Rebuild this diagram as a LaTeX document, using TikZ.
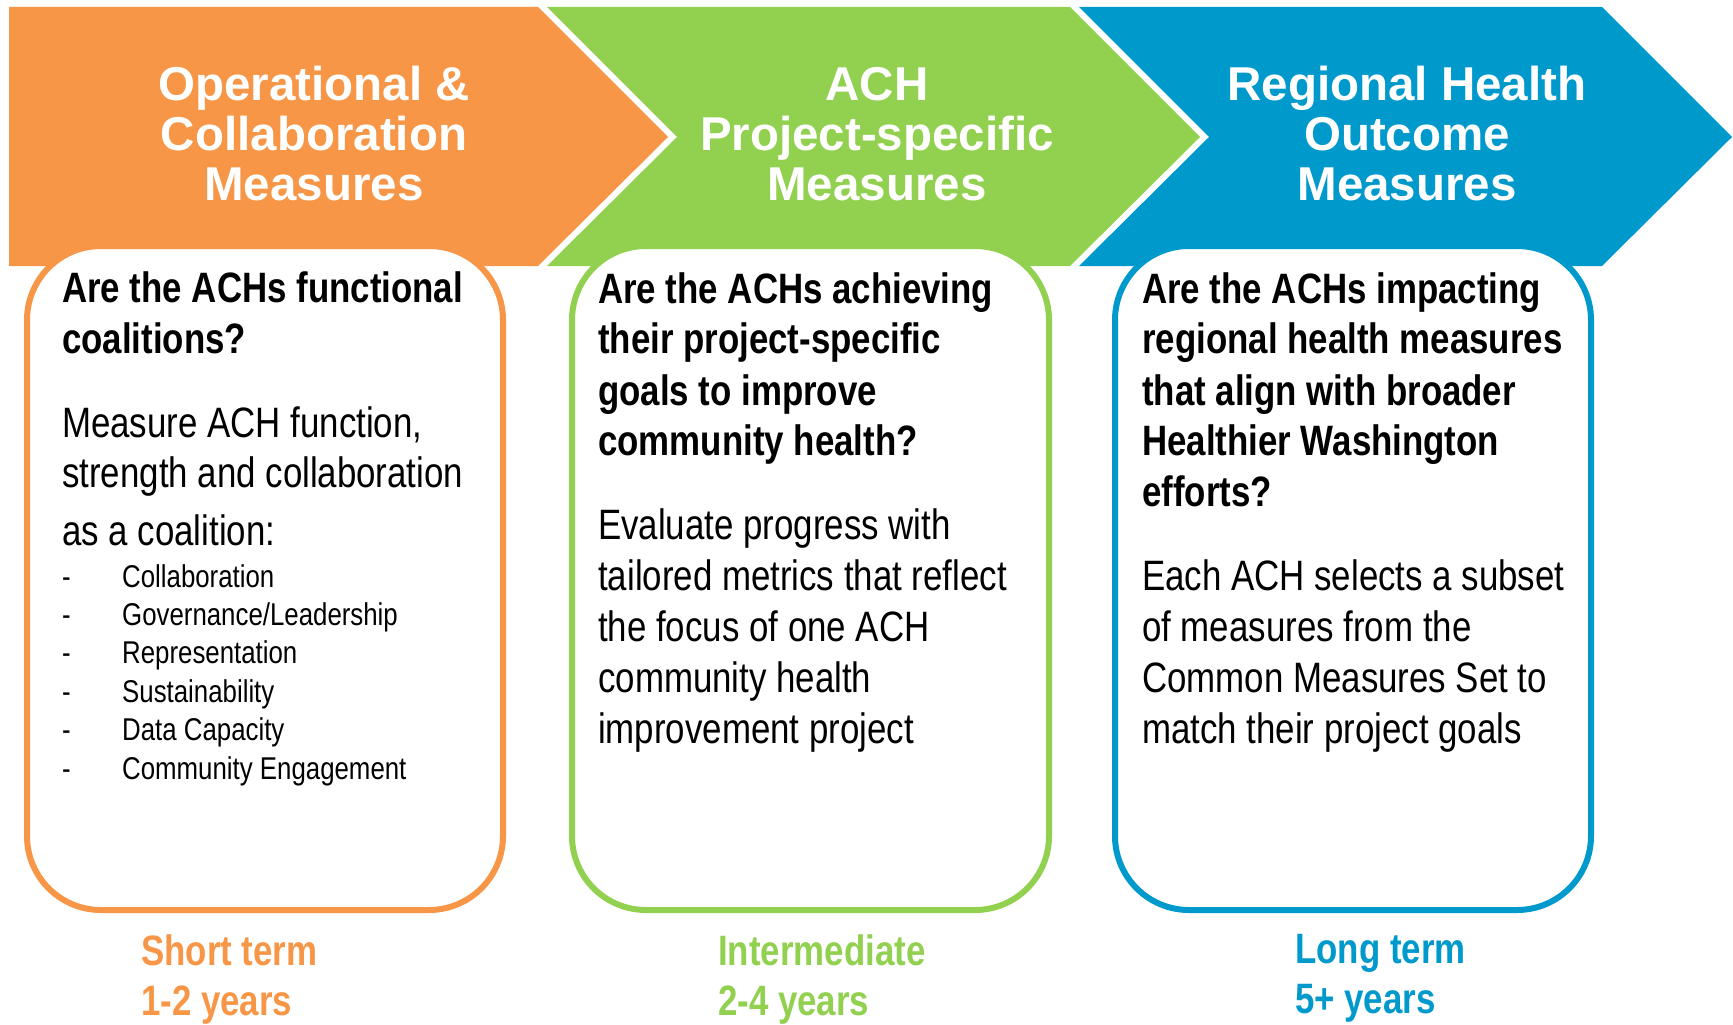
\documentclass[tikz,border=0pt]{standalone}
\usepackage{fontspec}
\setmainfont{Liberation Sans}
\newfontfamily\narrowfont[FakeStretch=0.82]{Liberation Sans}
\definecolor{corange}{HTML}{F79646}
\definecolor{cgreen}{HTML}{92D050}
\definecolor{cblue}{HTML}{0099CC}
\tikzset{
  titletext/.style={text=white, align=center, inner sep=0pt, anchor=center,
    font=\bfseries\fontsize{47.5}{50}\selectfont},
  headtext/.style={text=black, align=left, inner sep=0pt, anchor=north west,
    font=\narrowfont\bfseries\fontsize{42.5}{51}\selectfont},
  bodytext/.style={text=black, align=left, inner sep=0pt, anchor=north west,
    font=\narrowfont\fontsize{42.5}{51}\selectfont},
  listtext/.style={text=black, align=left, inner sep=0pt, anchor=north west,
    font=\narrowfont\fontsize{31.5}{38.4}\selectfont},
  termtext/.style={align=left, inner sep=0pt, anchor=north west,
    font=\narrowfont\bfseries\fontsize{42.5}{50.5}\selectfont},
  box/.style={line width=6pt, fill=white, rounded corners=74pt}
}
\begin{document}
\begin{tikzpicture}[x=1pt,y=-1pt]
\useasboundingbox (0,0) rectangle (1733,1025);
% chevrons
\fill[corange] (9,7) -- (538,7) -- (668,137) -- (538,266) -- (9,266) -- cycle;
\fill[cgreen] (547,7) -- (1070,7) -- (1200,137) -- (1070,266) -- (547,266) -- (677,137) -- cycle;
\fill[cblue] (1079,7) -- (1602,7) -- (1732,137) -- (1602,266) -- (1079,266) -- (1209,137) -- cycle;
% titles
\node[titletext] (t1) at (314,134) {Operational \&\\Collaboration\\Measures};
\node[titletext] (t2) at (877,134) {ACH\\Project-specific\\Measures};
\node[titletext] (t3) at (1407,134) {Regional Health\\Outcome\\Measures};
% boxes
\draw[box, draw=corange] (27,246) rectangle (503,910);
\draw[box, draw=cgreen] (572,246) rectangle (1049,910);
\draw[box, draw=cblue] (1115,246) rectangle (1591,910);
% orange box text
\node[headtext] (h1) at (62,272) {Are the ACHs functional\\coalitions?};
\node[bodytext] (b1) at (62,406) {Measure ACH function,\\strength and collaboration\\[6pt]as a coalition:};
\node[listtext] (l1) at (62,564) {\makebox[60pt][l]{-}Collaboration\\
\makebox[60pt][l]{-}Governance/Leadership\\
\makebox[60pt][l]{-}Representation\\
\makebox[60pt][l]{-}Sustainability\\
\makebox[60pt][l]{-}Data Capacity\\
\makebox[60pt][l]{-}Community Engagement};
% green box text
\node[headtext] (h2) at (598,272) {Are the ACHs achieving\\their project-specific\\goals to improve\\community health?};
\node[bodytext] (b2) at (598,508) {Evaluate progress with\\tailored metrics that reflect\\the focus of one ACH\\community health\\improvement project};
% blue box text
\node[headtext] (h3) at (1142,272) {Are the ACHs impacting\\regional health measures\\that align with broader\\Healthier Washington\\efforts?};
\node[bodytext] (b3) at (1142,559) {Each ACH selects a subset\\of measures from the\\Common Measures Set to\\match their project goals};
% terms
\node[termtext, text=corange] (s1) at (141,934) {Short term\\1-2 years};
\node[termtext, text=cgreen] (s2) at (718,934) {Intermediate\\2-4 years};
\node[termtext, text=cblue] (s3) at (1295,934) {Long term\\5+ years};
\end{tikzpicture}
\end{document}
